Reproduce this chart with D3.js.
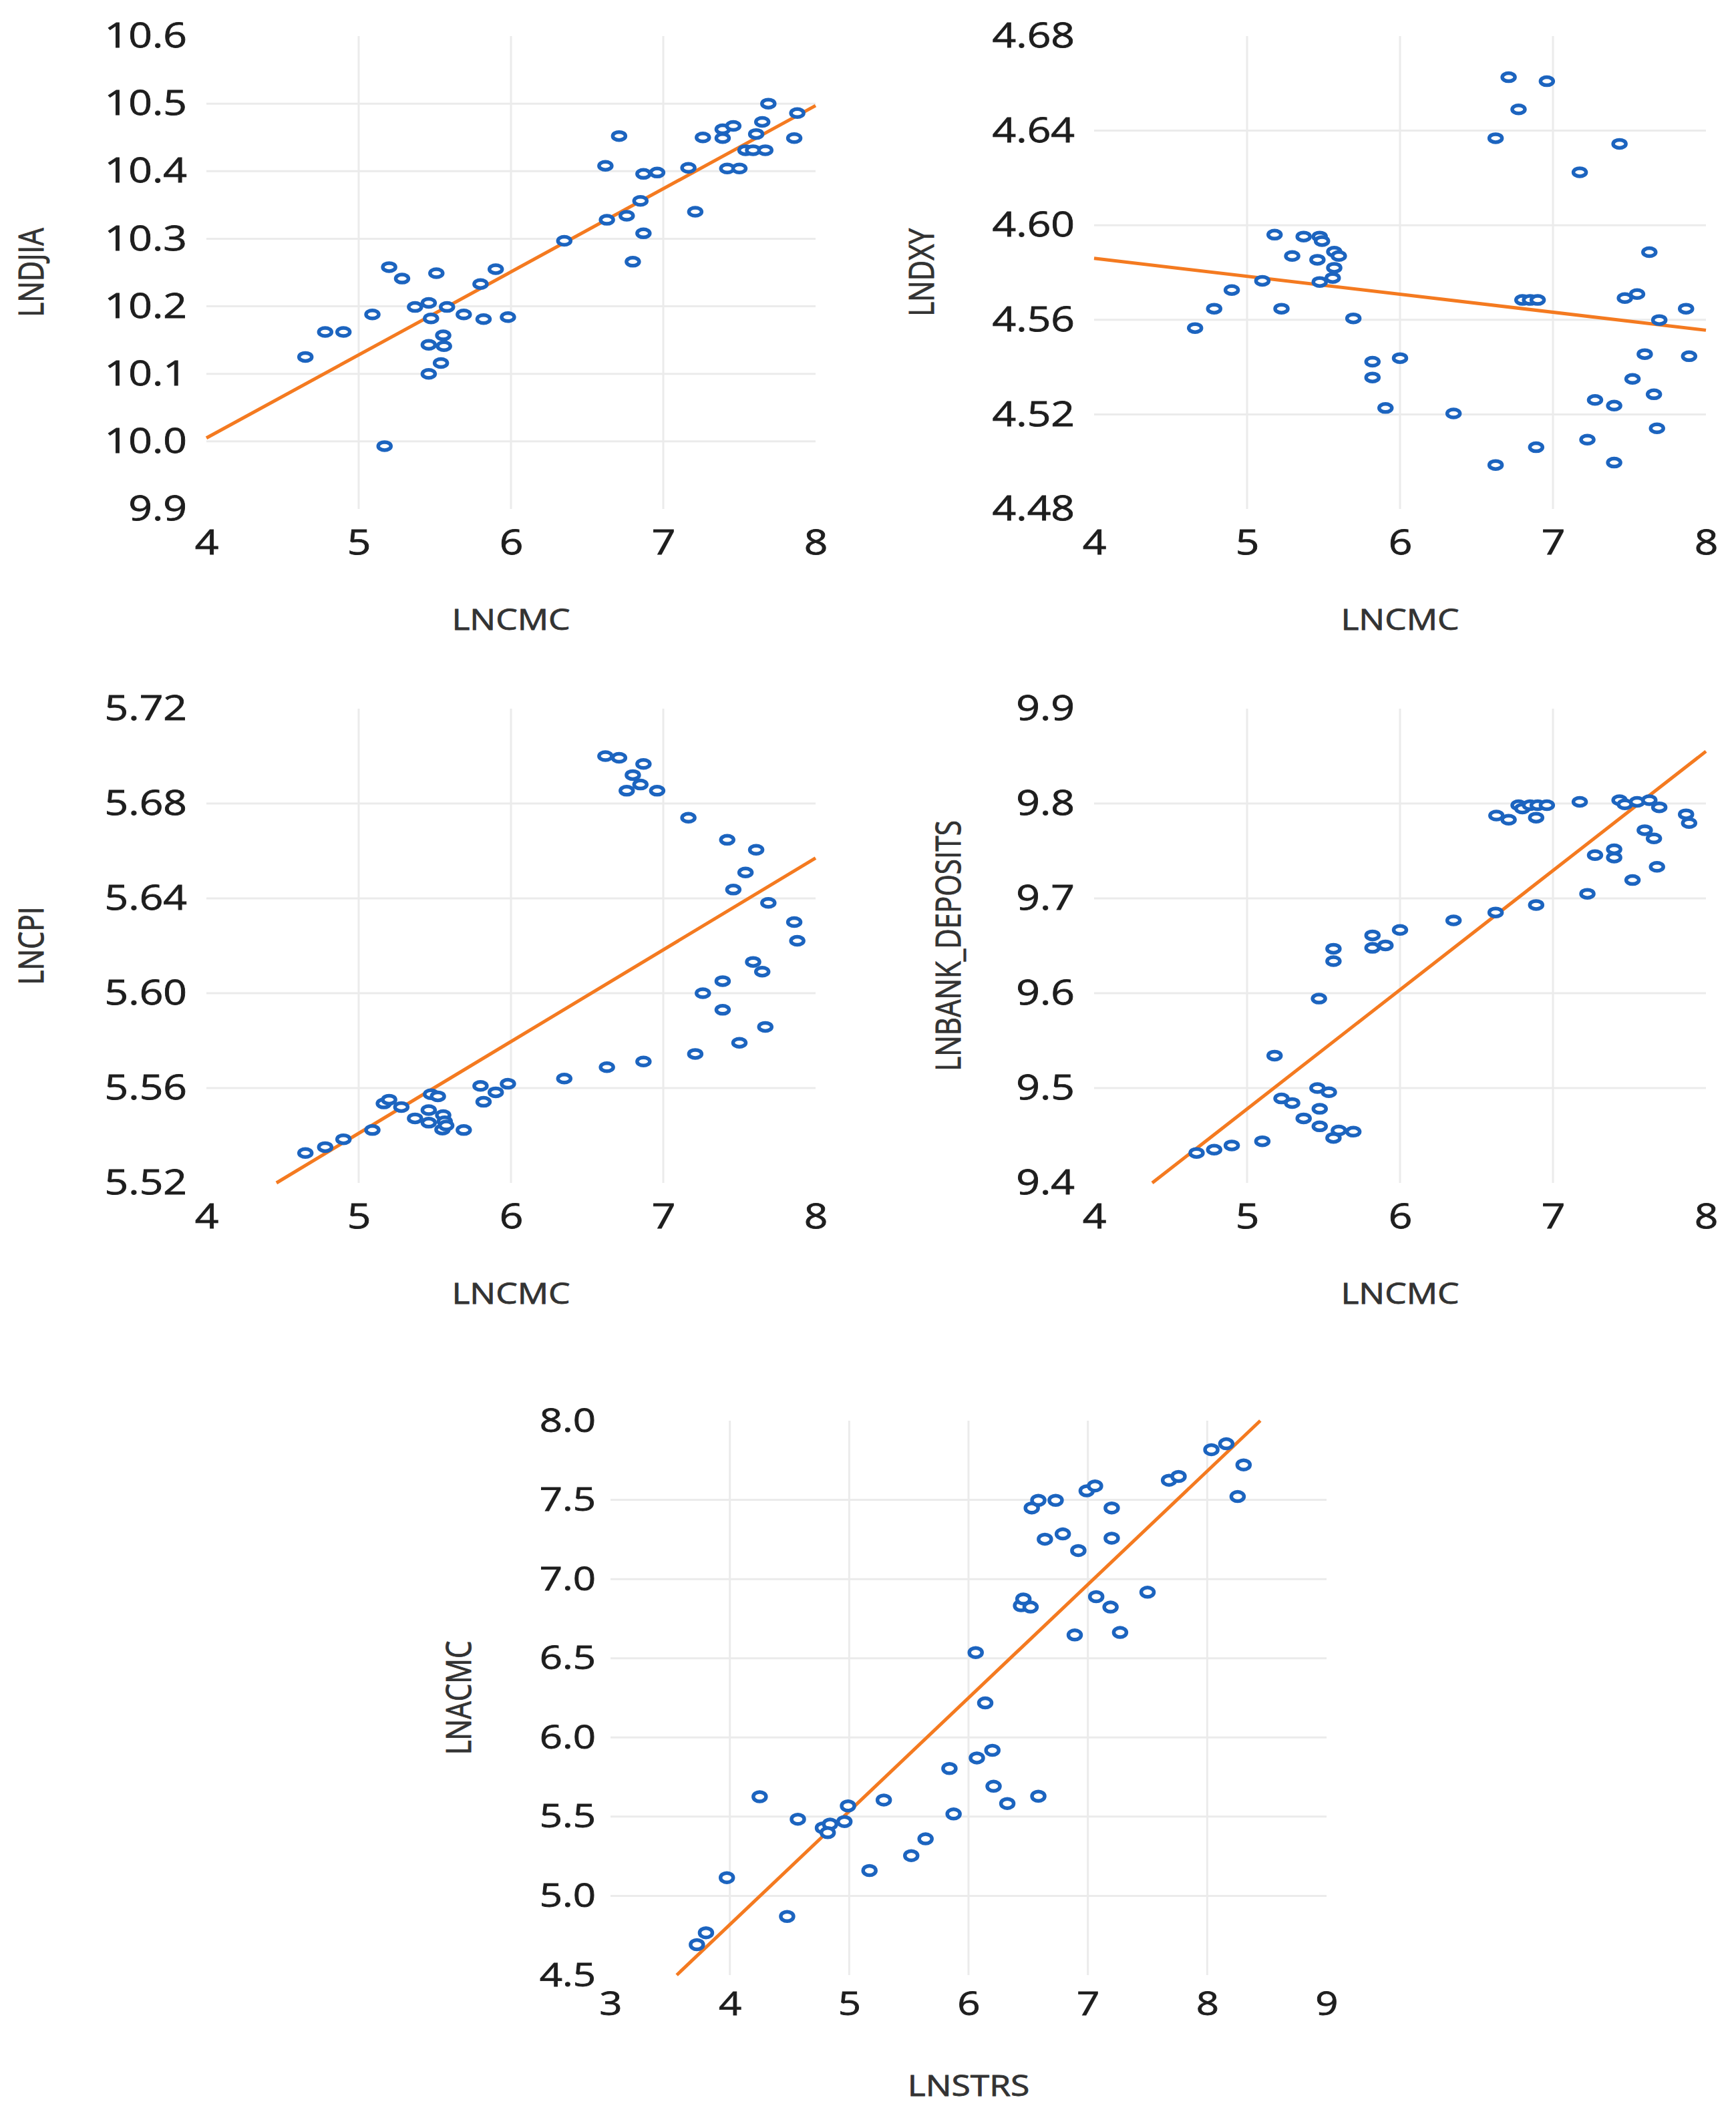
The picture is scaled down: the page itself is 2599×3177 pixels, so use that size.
<!DOCTYPE html>
<html>
<head>
<meta charset="utf-8">
<script src="https://cdn.jsdelivr.net/npm/d3@7"></script>
<style>
  body { margin: 0; background: #fff; }
  svg { display: block; }
</style>
</head>
<body>
<svg id="chart" width="2599" height="3177"></svg>
<script>
// values: [LNCMC, y] pairs for the four top panels, [LNSTRS, LNACMC] for the last one
var djiaPts = [
  [4.65,10.125],[4.78,10.162],[4.90,10.162],[5.09,10.188],[5.20,10.258],[5.285,10.241],[5.17,9.993],
  [5.37,10.199],[5.46,10.205],[5.475,10.182],[5.51,10.249],[5.46,10.143],[5.555,10.157],[5.56,10.141],
  [5.54,10.116],[5.46,10.100],[5.58,10.199],[5.69,10.188],[5.80,10.233],[5.90,10.255],[5.82,10.181],
  [5.98,10.184],[6.35,10.297],[6.62,10.408],[6.71,10.452],[6.63,10.328],[6.76,10.334],[6.80,10.266],
  [6.85,10.356],[6.87,10.308],[6.87,10.396],[6.96,10.398],[7.165,10.405],[7.21,10.34],[7.26,10.45],
  [7.39,10.462],[7.39,10.449],[7.46,10.467],[7.42,10.404],[7.50,10.404],[7.54,10.431],[7.59,10.431],
  [7.67,10.431],[7.61,10.455],[7.65,10.473],[7.69,10.50],[7.88,10.486],[7.86,10.449]
];
var dxyPts = [
  [4.66,4.5565],[4.785,4.5647],[4.90,4.5726],[5.10,4.5765],[5.18,4.596],[5.225,4.5647],[5.295,4.587],
  [5.37,4.5952],[5.475,4.5952],[5.49,4.5933],[5.46,4.5854],[5.57,4.5888],[5.60,4.587],[5.57,4.582],
  [5.56,4.5777],[5.475,4.576],[5.695,4.5606],[5.82,4.5423],[5.82,4.5356],[6.00,4.5438],[5.905,4.5227],
  [6.35,4.5204],[6.625,4.6368],[6.71,4.6626],[6.775,4.649],[6.96,4.6609],[6.625,4.4986],[6.80,4.5684],
  [6.85,4.5684],[6.90,4.5684],[6.89,4.5061],[7.175,4.6224],[7.225,4.5093],[7.275,4.5261],[7.40,4.5237],
  [7.40,4.4996],[7.435,4.6344],[7.47,4.5692],[7.55,4.5709],[7.52,4.535],[7.60,4.5455],[7.63,4.5886],
  [7.66,4.5285],[7.68,4.5141],[7.695,4.5599],[7.87,4.5647],[7.89,4.5446]
];
var cpiPts = [
  [4.65,5.5326],[4.78,5.5351],[4.90,5.5384],[5.09,5.5423],[5.165,5.5535],[5.20,5.5551],[5.28,5.552],
  [5.37,5.5472],[5.46,5.5507],[5.46,5.5454],[5.475,5.5574],[5.52,5.5565],[5.555,5.5486],[5.565,5.546],
  [5.55,5.5425],[5.575,5.5442],[5.69,5.5423],[5.80,5.5609],[5.82,5.5542],[5.90,5.5582],[5.98,5.5618],
  [6.35,5.564],[6.63,5.5688],[6.87,5.5712],[6.62,5.70],[6.71,5.6993],[6.87,5.6967],[6.80,5.692],
  [6.85,5.688],[6.76,5.6854],[6.96,5.6854],[7.165,5.674],[7.21,5.5744],[7.26,5.60],[7.39,5.6051],
  [7.39,5.593],[7.42,5.6647],[7.46,5.6437],[7.50,5.5791],[7.54,5.6509],[7.59,5.6132],[7.61,5.6605],
  [7.65,5.6091],[7.67,5.5858],[7.69,5.6381],[7.86,5.63],[7.88,5.6221]
];
var depositsPts = [
  [4.67,9.4316],[4.785,9.435],[4.90,9.4395],[5.10,9.4439],[5.18,9.5342],[5.225,9.489],[5.295,9.4842],
  [5.37,9.468],[5.46,9.50],[5.535,9.4956],[5.475,9.4781],[5.475,9.4596],[5.565,9.4474],[5.60,9.4553],
  [5.695,9.454],[5.47,9.5943],[5.565,9.6469],[5.565,9.6338],[5.82,9.661],[5.82,9.6478],[5.905,9.6504],
  [6.00,9.6667],[6.35,9.6768],[6.625,9.6851],[6.63,9.7873],[6.71,9.7829],[6.775,9.7982],[6.80,9.7947],
  [6.85,9.7982],[6.89,9.7851],[6.90,9.7982],[6.96,9.7982],[6.89,9.693],[7.175,9.8018],[7.225,9.7048],
  [7.275,9.7456],[7.40,9.7518],[7.40,9.743],[7.435,9.8035],[7.47,9.7991],[7.52,9.7193],[7.55,9.8018],
  [7.60,9.7719],[7.63,9.8035],[7.66,9.7632],[7.68,9.7333],[7.695,9.796],[7.87,9.7886],[7.89,9.7794]
];
var acmcPts = [
  [3.724,4.692],[3.80,4.767],[3.975,5.115],[4.25,5.626],[4.48,4.870],[4.57,5.484],[4.78,5.429],
  [4.84,5.453],[4.82,5.399],[4.96,5.469],[4.99,5.568],[5.17,5.160],[5.29,5.605],[5.52,5.254],
  [5.64,5.360],[5.84,5.804],[5.875,5.517],[6.06,6.536],[6.07,5.871],[6.14,6.218],[6.20,5.919],
  [6.21,5.692],[6.325,5.583],[6.585,5.629],[6.44,6.832],[6.46,6.874],[6.52,6.823],[6.53,7.449],
  [6.585,7.497],[6.73,7.497],[6.64,7.252],[6.79,7.285],[6.92,7.180],[6.89,6.647],[6.99,7.557],
  [7.06,7.588],[7.07,6.889],[7.20,7.449],[7.20,7.258],[7.19,6.823],[7.27,6.663],[7.50,6.917],
  [7.68,7.624],[7.76,7.648],[8.035,7.817],[8.16,7.854],[8.255,7.521],[8.305,7.721]
];

// fitted lines, end points as drawn
var djiaFit = [[4, 10.005], [8, 10.497]];
var dxyFit = [[4, 4.586], [8, 4.5556]];
var cpiFit = [[4.46, 5.52], [8, 5.657]];
var depositsFit = [[4.38, 9.4], [8, 9.855]];
var acmcFit = [[3.555, 4.5], [8.445, 8.0]];

// ticks
var cmcTicks = [4, 5, 6, 7, 8];
var strsTicks = [3, 4, 5, 6, 7, 8, 9];
var djiaTicks = [9.9, 10.0, 10.1, 10.2, 10.3, 10.4, 10.5, 10.6];
var dxyTicks = [4.48, 4.52, 4.56, 4.60, 4.64, 4.68];
var cpiTicks = [5.52, 5.56, 5.60, 5.64, 5.68, 5.72];
var depositsTicks = [9.4, 9.5, 9.6, 9.7, 9.8, 9.9];
var acmcTicks = [4.5, 5.0, 5.5, 6.0, 6.5, 7.0, 7.5, 8.0];

var panels = [
  { pts: djiaPts, fit: djiaFit, xt: cmcTicks, yt: djiaTicks, fmt: ".1f",
    xr: [309, 1221], yr: [762, 54], xl: "LNCMC", yl: "LNDJIA", ylx: 45, gap: 29, ry: 6, fs: 52 },
  { pts: dxyPts, fit: dxyFit, xt: cmcTicks, yt: dxyTicks, fmt: ".2f",
    xr: [1638, 2554], yr: [762, 54], xl: "LNCMC", yl: "LNDXY", ylx: 1378, gap: 29, ry: 6, fs: 52 },
  { pts: cpiPts, fit: cpiFit, xt: cmcTicks, yt: cpiTicks, fmt: ".2f",
    xr: [309, 1221], yr: [1771, 1061], xl: "LNCMC", yl: "LNCPI", ylx: 45, gap: 29, ry: 6, fs: 52 },
  { pts: depositsPts, fit: depositsFit, xt: cmcTicks, yt: depositsTicks, fmt: ".1f",
    xr: [1638, 2554], yr: [1771, 1061], xl: "LNCMC", yl: "LNBANK_DEPOSITS", ylx: 1418, gap: 29, ry: 6, fs: 52 },
  { pts: acmcPts, fit: acmcFit, xt: strsTicks, yt: acmcTicks, fmt: ".1f",
    xr: [914, 1986], yr: [2957, 2127], xl: "LNSTRS", yl: "LNACMC", ylx: 685, gap: 22, ry: 7, fs: 50 }
];

var svg = d3.select("#chart");
svg.append("rect").attr("width", 2599).attr("height", 3177).attr("fill", "#fff");

var stretch = 1.2; // the picture is wider than tall in its glyphs

panels.forEach(function(p) {
  var x = d3.scaleLinear().domain(d3.extent(p.xt)).range(p.xr);
  var y = d3.scaleLinear().domain(d3.extent(p.yt)).range(p.yr);
  var g = svg.append("g");

  // grid (inner ticks only)
  g.selectAll(".vgrid")
    .data(p.xt.slice(1, -1))
    .enter().append("line")
      .attr("x1", function(d) { return x(d); })
      .attr("x2", function(d) { return x(d); })
      .attr("y1", p.yr[1]).attr("y2", p.yr[0])
      .attr("stroke", "#ebebeb").attr("stroke-width", 3);
  g.selectAll(".hgrid")
    .data(p.yt.slice(1, -1))
    .enter().append("line")
      .attr("x1", p.xr[0]).attr("x2", p.xr[1])
      .attr("y1", function(d) { return y(d); })
      .attr("y2", function(d) { return y(d); })
      .attr("stroke", "#ebebeb").attr("stroke-width", 3);

  // axes
  var ax = g.append("g")
    .attr("transform", "translate(0," + p.yr[0] + ")")
    .call(d3.axisBottom(x).tickValues(p.xt).tickSize(0).tickPadding(0).tickFormat(d3.format("d")));
  ax.select(".domain").remove();
  ax.selectAll("text")
    .attr("y", p.fs === 52 ? 31 : 25)
    .attr("transform", "scale(" + stretch + ",1)")
    .attr("font-family", "'Open Sans', sans-serif")
    .attr("font-size", p.fs)
    .attr("fill", "#1e1e1e")
    .attr("stroke", "#1e1e1e").attr("stroke-width", 0.8);

  var ay = g.append("g")
    .attr("transform", "translate(" + p.xr[0] + ",0)")
    .call(d3.axisLeft(y).tickValues(p.yt).tickSize(0).tickPadding(0).tickFormat(d3.format(p.fmt)));
  ay.select(".domain").remove();
  ay.selectAll("text")
    .attr("x", -p.gap / stretch)
    .attr("transform", "scale(" + stretch + ",1)")
    .attr("font-family", "'Open Sans', sans-serif")
    .attr("font-size", p.fs)
    .attr("fill", "#1e1e1e")
    .attr("stroke", "#1e1e1e").attr("stroke-width", 0.8);

  // axis titles
  g.append("text")
    .attr("transform", "translate(" + ((p.xr[0] + p.xr[1]) / 2) + "," + (p.yr[0] + 181) + ") scale(" + stretch + ",1)")
    .attr("text-anchor", "middle")
    .attr("font-family", "'Open Sans', sans-serif")
    .attr("font-size", 43)
    .attr("fill", "#333")
    .attr("stroke", "#333").attr("stroke-width", 0.8)
    .text(p.xl);
  g.append("text")
    .attr("transform", "translate(" + p.ylx + "," + ((p.yr[0] + p.yr[1]) / 2) + ") rotate(-90) scale(1," + stretch + ")")
    .attr("text-anchor", "middle")
    .attr("dominant-baseline", "central")
    .attr("font-family", "'Open Sans', sans-serif")
    .attr("font-size", 42)
    .attr("fill", "#333")
    .attr("stroke", "#333").attr("stroke-width", 0.8)
    .text(p.yl);

  // fitted line
  g.append("path")
    .datum(p.fit)
    .attr("fill", "none")
    .attr("stroke", "#f47a20")
    .attr("stroke-width", 5)
    .attr("d", d3.line().x(function(d) { return x(d[0]); }).y(function(d) { return y(d[1]); }));

  // points
  g.selectAll(".pt")
    .data(p.pts)
    .enter().append("ellipse")
      .attr("cx", function(d) { return x(d[0]); })
      .attr("cy", function(d) { return y(d[1]); })
      .attr("rx", 9.5)
      .attr("ry", p.ry)
      .attr("fill", "#fff")
      .attr("stroke", "#1c64bf")
      .attr("stroke-width", 5.5);
});
</script>
</body>
</html>
